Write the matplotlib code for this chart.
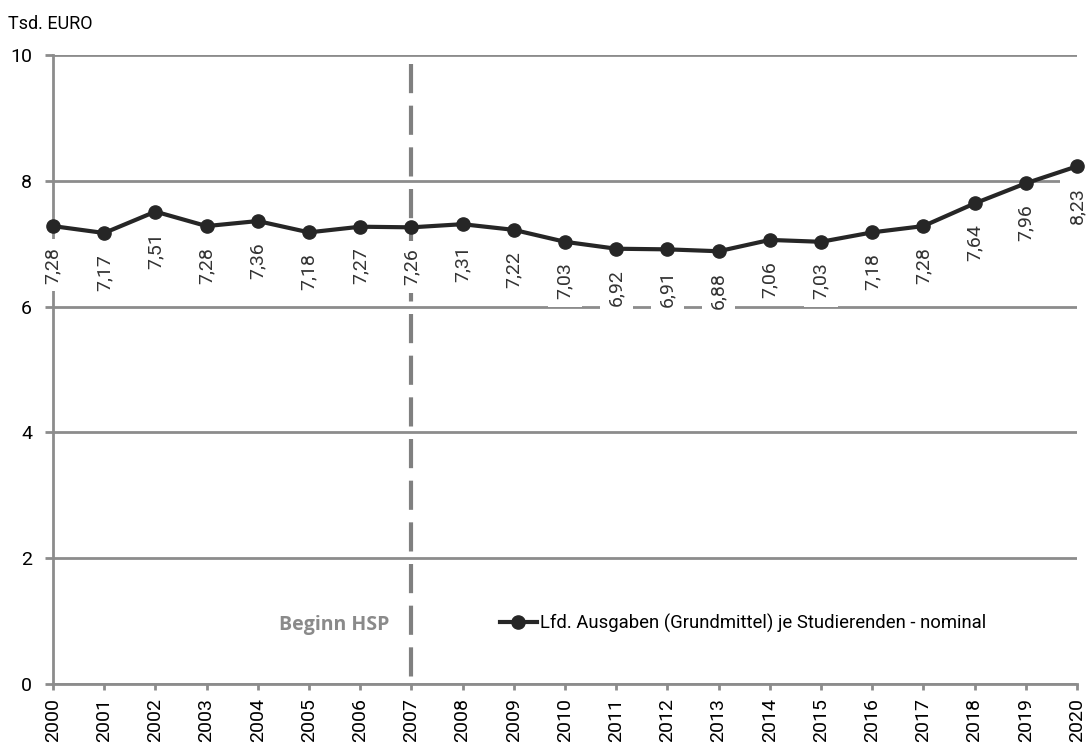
import matplotlib.pyplot as plt

# Running expenditure per student (thousand euro), nominal
years = list(range(2000, 2021))
values = [7.28, 7.17, 7.51, 7.28, 7.36, 7.18, 7.27, 7.26, 7.31, 7.22, 7.03,
          6.92, 6.91, 6.88, 7.06, 7.03, 7.18, 7.28, 7.64, 7.96, 8.23]
hsp_year = 2007
hsp_top = 9.86
series_name = "Lfd. Ausgaben (Grundmittel) je Studierenden - nominal"

plt.rcParams['font.family'] = ['Roboto', 'DejaVu Sans']

fig = plt.figure(figsize=(10.88, 7.47), dpi=100)
ax = fig.add_axes([0.0487, 0.0843, 0.9412, 0.8421])

grid_col = '#8c8c8c'
ax.set_xlim(2000, 2020)
ax.set_ylim(0, 10)
ax.set_yticks([0, 2, 4, 6, 8, 10])
ax.set_xticks(years)
ax.set_xticklabels([str(y) for y in years], rotation=90)
ax.yaxis.grid(True, color=grid_col, linewidth=2)
ax.set_axisbelow(True)
for side in ['top', 'right']:
    ax.spines[side].set_visible(False)
for side in ['left', 'bottom']:
    ax.spines[side].set_color(grid_col)
    ax.spines[side].set_linewidth(2)
ax.tick_params(axis='y', length=6, width=2, color=grid_col, pad=9,
               labelsize=14)
ax.tick_params(axis='x', length=4, width=2, color=grid_col, pad=6,
               labelsize=14)

# start of the Hochschulpakt (drawn top-down so the dashes start at the top)
ax.plot([hsp_year, hsp_year], [hsp_top, 0], color='#808080', linewidth=3,
        dashes=(7, 3), zorder=2)
ax.text(2005.49, 0.94, "Beginn HSP", color='#8a8a8a', fontsize=14,
        fontweight='bold', ha='center', va='center', family='Open Sans')

line, = ax.plot(years, values, color='#262626', linewidth=3, marker='o',
                markersize=9.5, clip_on=False, zorder=4, label=series_name)

for x, v in zip(years, values):
    ax.annotate(f"{v:.2f}".replace('.', ','), (x, v), xytext=(0, -15),
                textcoords='offset points', rotation=90, ha='center', va='top',
                fontsize=14, color='#333333',
                bbox=dict(facecolor='white', edgecolor='none', pad=5.5),
                zorder=3, annotation_clip=False)

ax.legend(handles=[line], loc='center left', bbox_to_anchor=(0.4365, 0.097),
          frameon=False, fontsize=13.3, handlelength=2.0, handletextpad=0.15,
          borderpad=0, borderaxespad=0)

fig.text(0.007, 0.968, "Tsd. EURO", fontsize=13, ha='left', va='center')

fig.savefig('out.png', dpi=100)
